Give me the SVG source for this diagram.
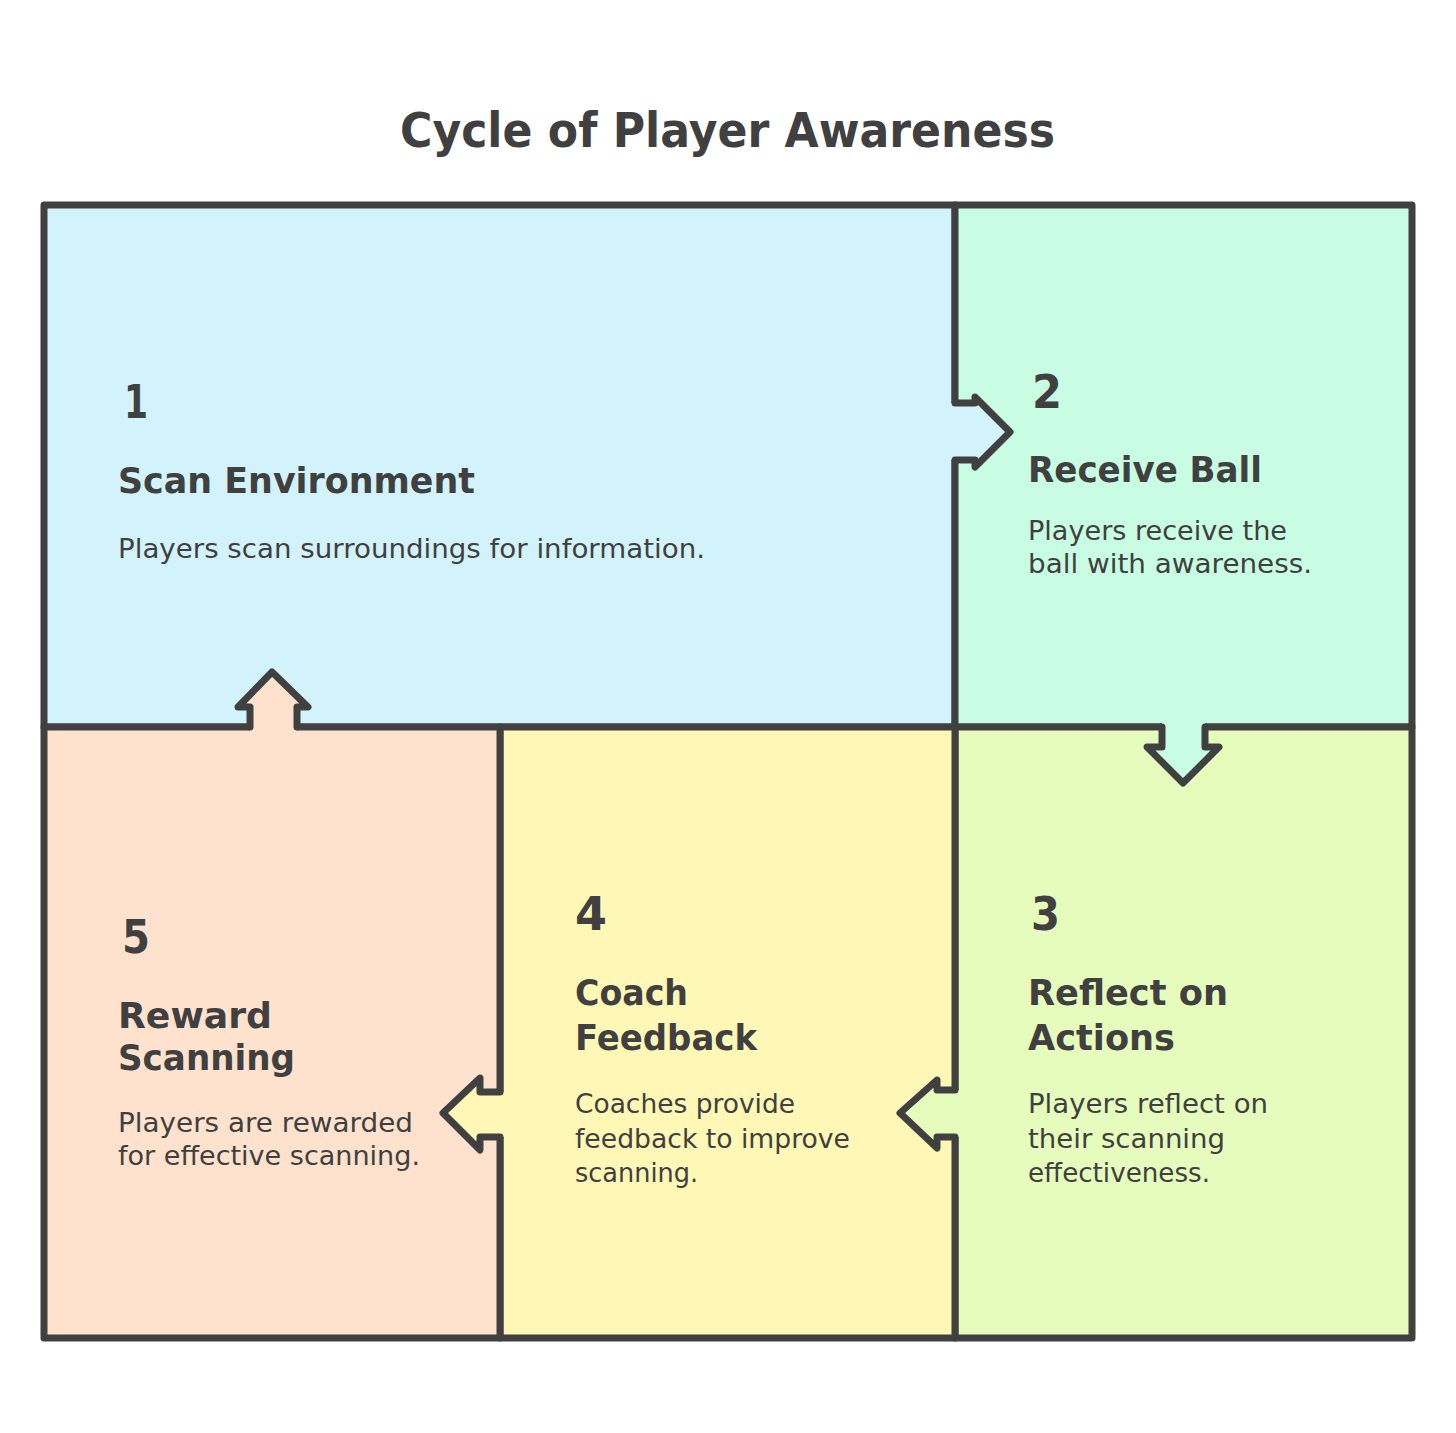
<svg xmlns="http://www.w3.org/2000/svg" width="1456" height="1433" viewBox="0 0 1456 1433">
<style>
.bd{fill:none;stroke:#404040;stroke-width:7;stroke-linejoin:round;stroke-linecap:round}
.t{font-family:"DejaVu Sans","Liberation Sans",sans-serif;fill:#404040}
.num{font-size:46px;font-weight:bold}
.ttl{font-size:35px;font-weight:bold}
.body{font-size:26px}
.head{font-size:48px;font-weight:bold}
</style>
<rect width="1456" height="1433" fill="#ffffff"/>
<text class="t head" x="400" y="147" textLength="655" lengthAdjust="spacingAndGlyphs">Cycle of Player Awareness</text>

<g id="node1">
<rect x="44" y="205" width="911" height="522" fill="#d3f3fc"/>
<rect class="bd" x="44" y="205" width="911" height="522"/>
<text class="t num" x="124" y="418" textLength="24" lengthAdjust="spacingAndGlyphs">1</text>
<text class="t ttl" x="118" y="493" textLength="357" lengthAdjust="spacingAndGlyphs">Scan Environment</text>
<text class="t body" x="118" y="558" textLength="587" lengthAdjust="spacingAndGlyphs">Players scan surroundings for information.</text>
</g>

<g id="node2">
<rect x="955" y="205" width="457" height="522" fill="#c8fce3"/>
<rect class="bd" x="955" y="205" width="457" height="522"/>
<text class="t num" x="1032" y="408" textLength="30" lengthAdjust="spacingAndGlyphs">2</text>
<text class="t ttl" x="1028" y="482" textLength="234" lengthAdjust="spacingAndGlyphs">Receive Ball</text>
<text class="t body" x="1028" y="540" textLength="259" lengthAdjust="spacingAndGlyphs">Players receive the</text>
<text class="t body" x="1028" y="573" textLength="284" lengthAdjust="spacingAndGlyphs">ball with awareness.</text>
</g>

<g id="node3">
<rect x="955" y="727" width="457" height="611" fill="#e6fcbc"/>
<rect class="bd" x="955" y="727" width="457" height="611"/>
<text class="t num" x="1031" y="930" textLength="29" lengthAdjust="spacingAndGlyphs">3</text>
<text class="t ttl" x="1028" y="1005" textLength="200" lengthAdjust="spacingAndGlyphs">Reflect on</text>
<text class="t ttl" x="1028" y="1050" textLength="147" lengthAdjust="spacingAndGlyphs">Actions</text>
<text class="t body" x="1028" y="1113" textLength="240" lengthAdjust="spacingAndGlyphs">Players reflect on</text>
<text class="t body" x="1028" y="1148" textLength="197" lengthAdjust="spacingAndGlyphs">their scanning</text>
<text class="t body" x="1028" y="1182" textLength="182" lengthAdjust="spacingAndGlyphs">effectiveness.</text>
</g>

<g id="node4">
<rect x="500" y="727" width="455" height="611" fill="#fff7b5"/>
<rect class="bd" x="500" y="727" width="455" height="611"/>
<text class="t num" x="575" y="930" textLength="32" lengthAdjust="spacingAndGlyphs">4</text>
<text class="t ttl" x="575" y="1005" textLength="113" lengthAdjust="spacingAndGlyphs">Coach</text>
<text class="t ttl" x="575" y="1050" textLength="182" lengthAdjust="spacingAndGlyphs">Feedback</text>
<text class="t body" x="575" y="1113" textLength="220" lengthAdjust="spacingAndGlyphs">Coaches provide</text>
<text class="t body" x="575" y="1148" textLength="275" lengthAdjust="spacingAndGlyphs">feedback to improve</text>
<text class="t body" x="575" y="1182" textLength="123" lengthAdjust="spacingAndGlyphs">scanning.</text>
</g>

<g id="node5">
<rect x="44" y="727" width="456" height="611" fill="#fee2cd"/>
<rect class="bd" x="44" y="727" width="456" height="611"/>
<text class="t num" x="122" y="953" textLength="28" lengthAdjust="spacingAndGlyphs">5</text>
<text class="t ttl" x="118" y="1028" textLength="154" lengthAdjust="spacingAndGlyphs">Reward</text>
<text class="t ttl" x="118" y="1070" textLength="177" lengthAdjust="spacingAndGlyphs">Scanning</text>
<text class="t body" x="118" y="1132" textLength="295" lengthAdjust="spacingAndGlyphs">Players are rewarded</text>
<text class="t body" x="118" y="1165" textLength="302" lengthAdjust="spacingAndGlyphs">for effective scanning.</text>
</g>

<g id="connectors">
<g id="c1-2">
<polygon points="946,403 975,403 975,397 1010,432 975,467 975,460 946,460" fill="#d3f3fc"/>
<polyline class="bd" points="955,403 975,403 975,397 1010,432 975,467 975,460 955,460"/>
</g>
<g id="c2-3">
<polygon points="1162,718 1162,747 1147,747 1183,783 1219,747 1205,747 1205,718" fill="#c8fce3"/>
<polyline class="bd" points="1162,727 1162,747 1147,747 1183,783 1219,747 1205,747 1205,727"/>
</g>
<g id="c3-4">
<polygon points="964,1090 937,1090 937,1080 900,1113 937,1148 937,1137 964,1137" fill="#e6fcbc"/>
<polyline class="bd" points="955,1090 937,1090 937,1080 900,1113 937,1148 937,1137 955,1137"/>
</g>
<g id="c4-5">
<polygon points="509,1092 480,1092 480,1078 443,1113 480,1150 480,1137 509,1137" fill="#fff7b5"/>
<polyline class="bd" points="500,1092 480,1092 480,1078 443,1113 480,1150 480,1137 500,1137"/>
</g>
<g id="c5-1">
<polygon points="250,736 250,707 238,707 272,672 308,707 297,707 297,736" fill="#fee2cd"/>
<polyline class="bd" points="250,727 250,707 238,707 272,672 308,707 297,707 297,727"/>
</g>
</g>
</svg>
